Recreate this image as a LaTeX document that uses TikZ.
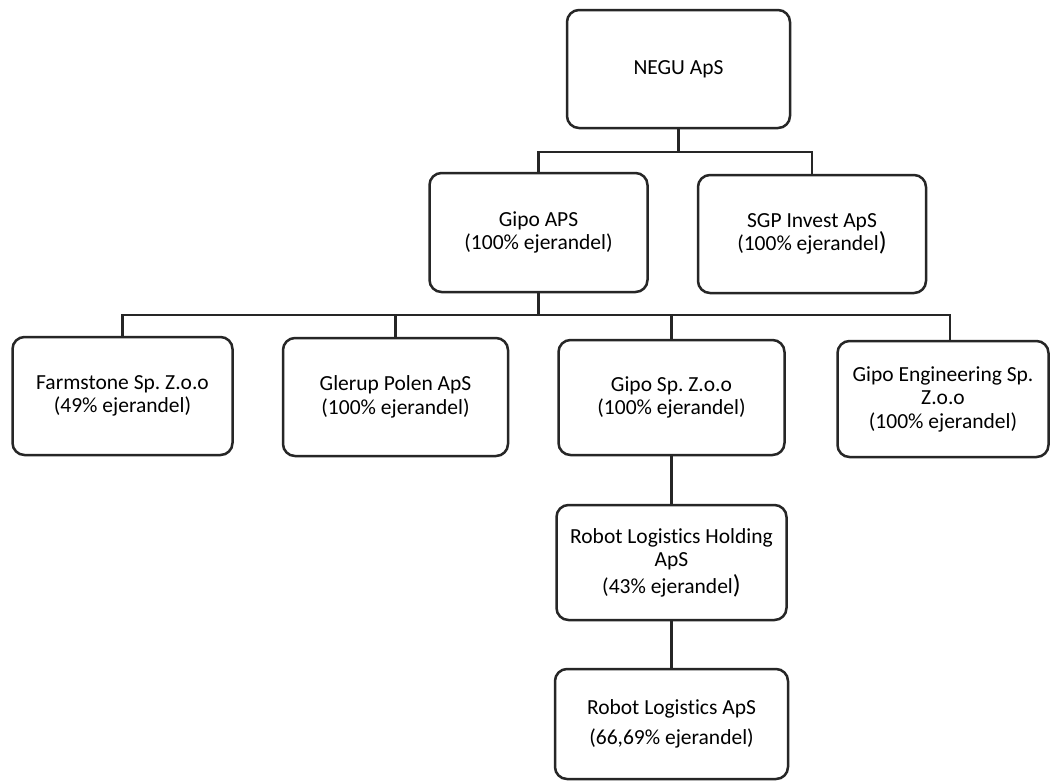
\documentclass[tikz,border=0pt]{standalone}
\usepackage{fontspec}
\setmainfont{Carlito}[Ligatures=NoCommon]
\frenchspacing
\newcommand{\bigpar}{{\fontsize{26}{26}\selectfont)}}
\begin{document}
\begin{tikzpicture}[x=1pt,y=-1pt,
  orgbox/.style={draw=black!85, line width=2.5pt, rounded corners=12pt, align=center,
    inner sep=0pt, fill=white, font=\fontsize{21.5}{23.5}\selectfont},
  link/.style={draw=black!85, line width=2.5pt}]
\useasboundingbox[fill=white] (0,0) rectangle (1051,782);

\node[orgbox, minimum width=223pt, minimum height=118pt] (negu) at (678.5,69) {NEGU ApS};
\node[orgbox, minimum width=218pt, minimum height=119pt] (gipo) at (538.5,232.5) {Gipo APS\\(100\% ejerandel)};
\node[orgbox, minimum width=228pt, minimum height=118pt] (sgp) at (812,234) {SGP Invest ApS\\(100\% ejerandel\bigpar};
\node[orgbox, minimum width=220pt, minimum height=118pt] (farm) at (122.5,396) {Farmstone Sp. Z.o.o\\(49\% ejerandel)};
\node[orgbox, minimum width=225pt, minimum height=118pt] (glerup) at (395.5,397) {Glerup Polen ApS\\(100\% ejerandel)};
\node[orgbox, minimum width=226pt, minimum height=115pt] (gsp) at (671.5,397.5) {Gipo Sp. Z.o.o\\(100\% ejerandel)};
\node[orgbox, minimum width=211pt, minimum height=116pt] (geng) at (943,399) {Gipo Engineering Sp.\\Z.o.o\\(100\% ejerandel)};
\node[orgbox, minimum width=230pt, minimum height=115pt] (rlh) at (671.5,562.5) {Robot Logistics Holding\\ApS\\[3pt](43\% ejerandel\bigpar};
\node[orgbox, minimum width=233pt, minimum height=110pt] (rl) at (671.5,724) {Robot Logistics ApS\\[7pt](66,69\% ejerandel)};

\coordinate (j1) at (678.5,152);
\coordinate (j2) at (538.5,315);
\coordinate (gengtop) at (950,341);

\draw[link] (negu.south) -- (j1);
\draw[link] (gipo.north) |- (j1) -| (sgp.north);
\draw[link] (gipo.south) -- (j2);
\draw[link] (farm.north) |- (j2) -| (gengtop);
\draw[link] (glerup.north) -- (glerup.north |- j2);
\draw[link] (gsp.north) -- (gsp.north |- j2);
\draw[link] (gsp.south) -- (rlh.north);
\draw[link] (rlh.south) -- (rl.north);
\end{tikzpicture}
\end{document}
